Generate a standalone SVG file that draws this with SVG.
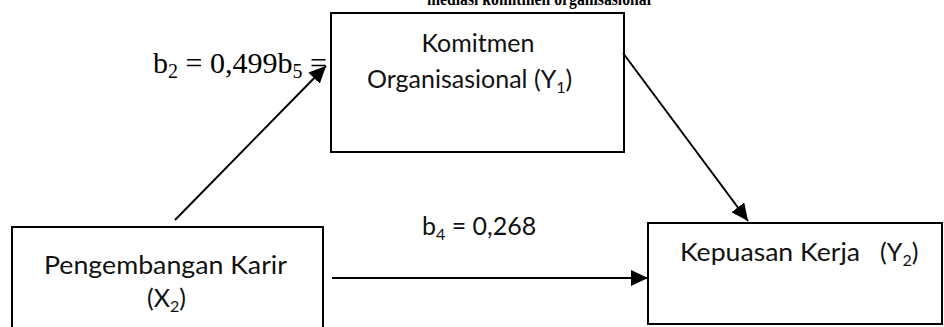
<svg xmlns="http://www.w3.org/2000/svg" width="944" height="327" viewBox="0 0 944 327">
<style>
.box{fill:#fff;stroke:#000;stroke-width:2}
.t{font-family:Lato,"Liberation Sans",sans-serif;font-size:25px;fill:#111}
.s{font-size:16px}
.serif{font-family:"Liberation Serif","Times New Roman",serif;fill:#000}
.edge{stroke:#000;stroke-width:2;fill:none;marker-end:url(#ah)}
</style>
<defs>
<marker id="ah" markerUnits="userSpaceOnUse" markerWidth="18" markerHeight="16" viewBox="0 0 18 16" refX="17" refY="8" orient="auto">
<path d="M0,0 L17,8 L0,16 Z" fill="#000"/>
</marker>
</defs>
<text class="serif" x="427" y="5" font-size="19" font-weight="bold" textLength="224" lengthAdjust="spacingAndGlyphs">mediasi komitmen organisasional</text>
<g id="label-b2">
<text class="serif" x="153" y="73" font-size="30">b<tspan font-size="20" dy="5">2</tspan><tspan dy="-5"> = 0,499b</tspan><tspan font-size="20" dy="5">5</tspan><tspan dy="-5"> =</tspan></text>
</g>
<g id="node-komitmen">
<rect class="box" x="331" y="13" width="293" height="139"/>
<text class="t" x="478" y="52" text-anchor="middle">Komitmen</text>
<text class="t" x="367" y="88">Organisasional (Y<tspan class="s" dy="5">1</tspan><tspan dy="-5">)</tspan></text>
</g>
<g id="node-pengembangan">
<rect class="box" x="12" y="227" width="311" height="110"/>
<text class="t" x="44" y="274" textLength="243" lengthAdjust="spacingAndGlyphs">Pengembangan Karir</text>
<text class="t" x="147" y="307">(X<tspan class="s" dy="5">2</tspan><tspan dy="-5">)</tspan></text>
</g>
<g id="node-kepuasan">
<rect class="box" x="648" y="223" width="294" height="101"/>
<text class="t" x="680" y="261"><tspan textLength="180" lengthAdjust="spacingAndGlyphs">Kepuasan Kerja</tspan><tspan x="880">(Y</tspan><tspan class="s" dy="5">2</tspan><tspan dy="-5">)</tspan></text>
</g>
<g id="label-b4">
<text class="t" x="422" y="235">b<tspan class="s" dy="5">4</tspan><tspan dy="-5"> = 0,268</tspan></text>
</g>
<g id="connectors">
<line class="edge" x1="175" y1="220" x2="326" y2="66"/>
<line class="edge" x1="623" y1="53" x2="748" y2="221"/>
<line class="edge" x1="332" y1="278" x2="648" y2="278"/>
</g>
</svg>
